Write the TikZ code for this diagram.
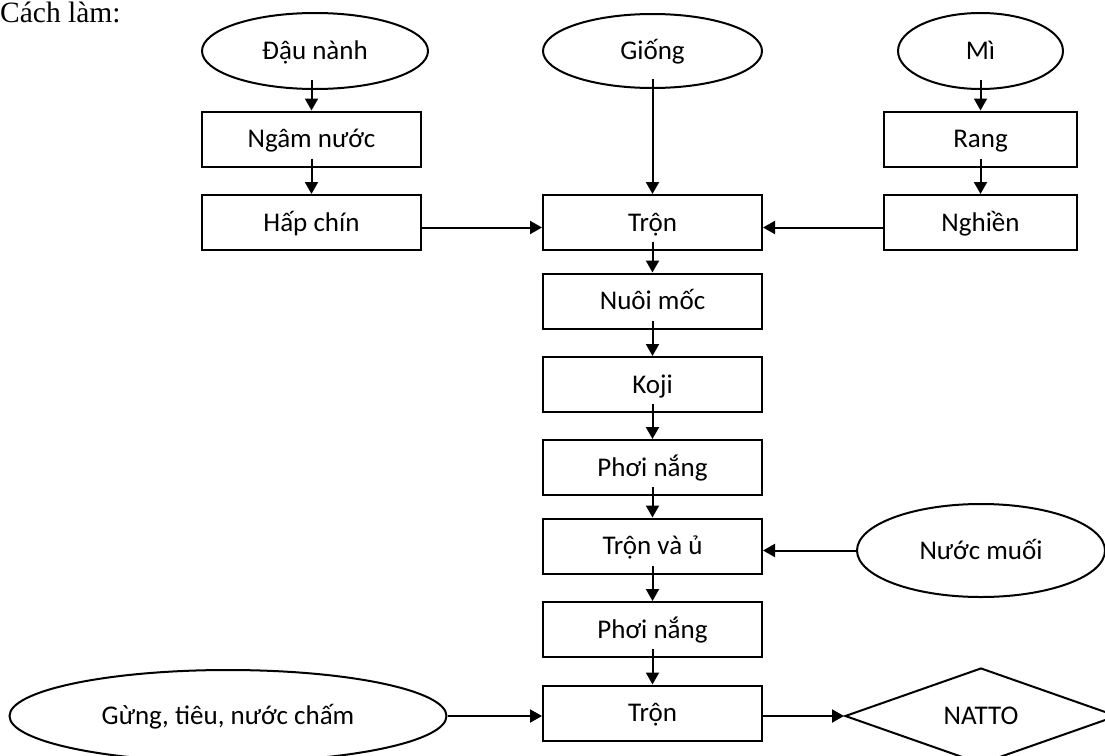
\documentclass[tikz,border=0pt]{standalone}
\usepackage{fontspec}
\setmainfont{Carlito}
\newfontfamily\headfont{Liberation Serif}
\usetikzlibrary{shapes.geometric,arrows.meta}
\begin{document}
\begin{tikzpicture}[x=1pt,y=-1pt,
  every node/.style={font=\fontsize{27}{32}\selectfont, inner sep=0pt,
                     text height=17.4pt, text depth=0pt},
  stepbox/.style={draw, line width=2pt, rectangle, minimum height=55pt},
  inbox/.style={draw, line width=2pt, ellipse},
  endbox/.style={draw, line width=2pt, diamond},
  flow/.style={line width=2pt, -{Triangle[length=12pt,width=13pt]}},
  flowin/.style={flow, shorten <=-9pt}]
\clip (0,0) rectangle (1105,755);

% heading
\node[anchor=base west, font=\headfont\fontsize{29.5}{34}\selectfont] (head) at (0,22) {Cách làm:};

% inputs
\node[inbox, minimum width=226pt, minimum height=76pt] (dn) at (315,51) {Đậu nành};
\node[inbox, minimum width=219pt, minimum height=74pt] (giong) at (652.5,51) {Giống};
\node[inbox, minimum width=165pt, minimum height=76pt] (mi) at (980.5,51) {Mì};
\node[inbox, minimum width=248pt, minimum height=93pt] (nm) at (981,550.5) {Nước muối};
\node[inbox, minimum width=437pt, minimum height=92pt] (gung) at (228,716) {Gừng, tiêu, nước chấm};

% left branch
\node[stepbox, minimum width=219pt] (ngam) at (311.5,139) {Ngâm nước};
\node[stepbox, minimum width=219pt] (hap) at (311.5,222.5) {Hấp chín};

% right branch
\node[stepbox, minimum width=193pt] (rang) at (980.5,139) {Rang};
\node[stepbox, minimum width=193pt] (nghien) at (980.5,222.5) {Nghiền};

% main column
\node[stepbox, minimum width=219pt] (tron1) at (652.5,222.5) {Trộn};
\node[stepbox, minimum width=219pt] (nuoi) at (652.5,301) {Nuôi mốc};
\node[stepbox, minimum width=219pt] (koji) at (652.5,384.5) {Koji};
\node[stepbox, minimum width=219pt] (phoi1) at (652.5,467.5) {Phơi nắng};
\node[stepbox, minimum width=219pt] (tronu) at (652.5,546) {Trộn và ủ};
\node[stepbox, minimum width=219pt] (phoi2) at (652.5,629.5) {Phơi nắng};
\node[stepbox, minimum width=219pt] (tron2) at (652.5,713) {Trộn};

% product
\node[endbox, minimum width=272pt, minimum height=96pt] (natto) at (981,716) {NATTO};

% vertical flows
\draw[flowin, shorten <=-10pt] (ngam.north |- dn.south) -- (ngam.north);
\draw[flowin] (ngam.south) -- (hap.north);
\draw[flowin, shorten <=-10pt] (giong.south) -- (tron1.north);
\draw[flowin, shorten <=-10pt] (rang.north |- mi.south) -- (rang.north);
\draw[flowin] (rang.south) -- (nghien.north);
\draw[flowin] (tron1.south) -- (nuoi.north);
\draw[flowin] (nuoi.south) -- (koji.north);
\draw[flowin] (koji.south) -- (phoi1.north);
\draw[flowin] (phoi1.south) -- (tronu.north);
\draw[flowin] (tronu.south) -- (phoi2.north);
\draw[flowin] (phoi2.south) -- (tron2.north);

% horizontal flows
\draw[flow] ([yshift=-5pt]hap.east) -- ([yshift=-5pt]tron1.west);
\draw[flow] ([yshift=-5pt]nghien.west) -- ([yshift=-5pt]tron1.east);
\draw[flow] (nm.west) -- (nm.west -| tronu.east);
\draw[flow] (gung.east) -- (gung.east -| tron2.west);
\draw[flow] (natto.west -| tron2.east) -- (natto.west);
\end{tikzpicture}
\end{document}
